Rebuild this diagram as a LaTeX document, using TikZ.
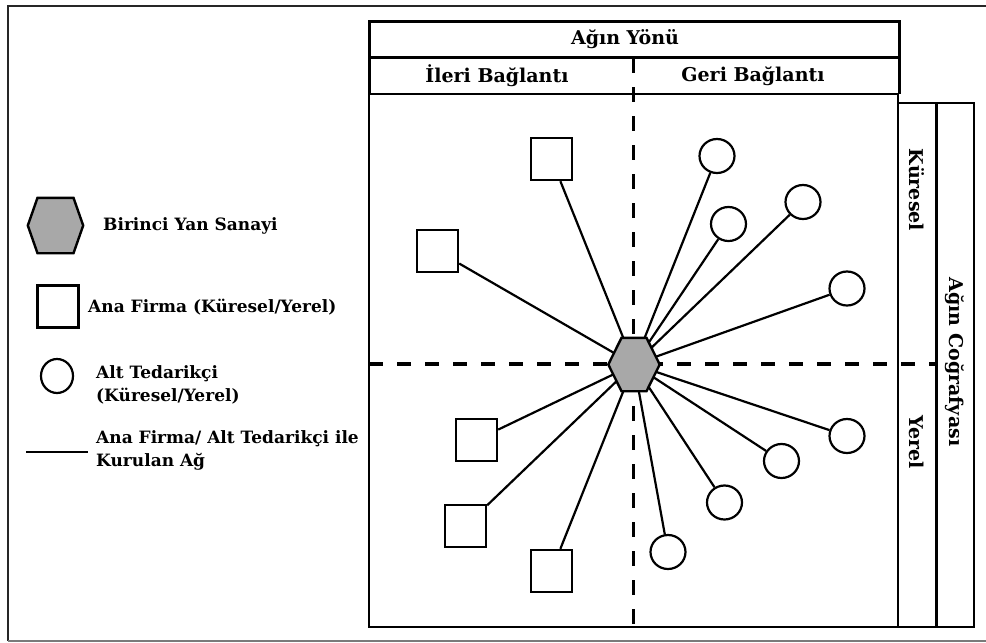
\documentclass[tikz,border=0pt]{standalone}
\usepackage{fontspec}
\setmainfont{DejaVu Serif}
\usetikzlibrary{shapes.geometric}

\tikzset{
  txt/.style={font=\bfseries\fontsize{17}{23}\selectfont, inner sep=0pt},
  headtxt/.style={font=\bfseries\fontsize{19}{22}\selectfont, inner sep=0pt},
  firm/.style={draw, line width=2.4pt, fill=white, minimum width=41pt, minimum height=42pt, inner sep=0pt},
  supplier/.style={draw, ellipse, line width=2.2pt, fill=white, minimum width=35pt, minimum height=34pt, inner sep=0pt},
  link/.style={line width=2.2pt},
  splitv/.style={line width=3.5pt, dash pattern=on 15pt off 14pt},
  splith/.style={line width=3.5pt, dash pattern=on 14pt off 14pt},
  hubfill/.style={draw, line width=2.4pt, fill=hubgray, line join=miter},
  frame/.style={line width=2pt},
}
\definecolor{hubgray}{HTML}{A8A8A8}
\definecolor{edgegray}{HTML}{7A7A7A}

\begin{document}
\begin{tikzpicture}[x=1pt, y=-1pt]
  \useasboundingbox (0,0) rectangle (986,643);

  % page frame
  \draw[line width=2pt, black!85] (8,641) -- (8,6) -- (986,6);
  \draw[line width=1.5pt, edgegray] (8,641) -- (986,641);

  % direction header
  \draw[line width=3pt] (369,94) -- (369,21) -- (899,21) -- (899,94);
  \draw[line width=3pt] (369,57) -- (899,57);
  \draw[frame] (369,94) -- (899,94);
  \node[headtxt] (dir) at (625,39) {Ağın Yönü};
  \node[headtxt] (fwd) at (497,76) {İleri Bağlantı};
  \node[headtxt] (bwd) at (753,76) {Geri Bağlantı};

  % main field
  \draw[frame] (369,94) rectangle (898,627);

  % geography columns
  \draw[frame] (898,103) rectangle (974,627);
  \draw[line width=3pt] (936,103) -- (936,627);
  \node[headtxt, rotate=-90] (glob) at (917,190) {Küresel};
  \node[headtxt, rotate=-90] (loc) at (917,442) {Yerel};
  \node[headtxt, rotate=-90] (geo) at (955,362) {Ağın Coğrafyası};

  % quadrant dividers
  \draw[splitv] (633.5,58) -- (633.5,627);
  \draw[splith] (369,364) -- (936,364);

  % centre of the network
  \node[minimum width=51pt, minimum height=53pt, inner sep=0pt] (hub) at (634,364.5) {};

  % main firms
  \node[firm] (f1) at (551.5,159) {};
  \node[firm] (f2) at (437.5,251) {};
  \node[firm] (f3) at (476.5,440) {};
  \node[firm] (f4) at (465.5,526) {};
  \node[firm] (f5) at (551.5,571) {};

  % sub-suppliers
  \node[supplier] (s1) at (717,156) {};
  \node[supplier] (s2) at (803,202) {};
  \node[supplier] (s3) at (728.5,224) {};
  \node[supplier] (s4) at (847,288.5) {};
  \node[supplier] (s5) at (847,436) {};
  \node[supplier] (s6) at (781.5,461) {};
  \node[supplier] (s7) at (724.5,502.5) {};
  \node[supplier] (s8) at (668,552) {};

  % network links
  \foreach \n in {f1,f2,f3,f4,f5,s1,s2,s3,s4,s5,s6,s7,s8}
    \draw[link] (\n) -- (hub.center);

  % hexagon drawn over the link ends
  \draw[hubfill] (hub.west) -- ([xshift=-12.5pt]hub.north) -- ([xshift=12.5pt]hub.north)
    -- (hub.east) -- ([xshift=12.5pt]hub.south) -- ([xshift=-12.5pt]hub.south) -- cycle;

  % key
  \node[minimum width=55pt, minimum height=55pt, inner sep=0pt] (khub) at (55.5,225.5) {};
  \draw[hubfill] (khub.west) -- ([xshift=-18pt]khub.north) -- ([xshift=18pt]khub.north)
    -- (khub.east) -- ([xshift=18pt]khub.south) -- ([xshift=-18pt]khub.south) -- cycle;
  \node[txt, anchor=west] (khubtxt) at (103,226) {Birinci Yan Sanayi};

  \node[firm] (kfirm) at (58,306.5) {};
  \node[txt, anchor=west] (kfirmtxt) at (88,307) {Ana Firma (Küresel/Yerel)};

  \node[supplier, minimum width=32pt] (ksup) at (57,376) {};
  \node[txt, anchor=north west, align=left] (ksuptxt) at (96,365) {Alt Tedarikçi\\(Küresel/Yerel)};

  \coordinate (klinea) at (26,452);
  \coordinate (klineb) at (88,452);
  \draw[link] (klinea) -- (klineb);
  \node[txt, anchor=north west, align=left] (klinetxt) at (96,430) {Ana Firma/ Alt Tedarikçi ile\\Kurulan Ağ};
\end{tikzpicture}
\end{document}
